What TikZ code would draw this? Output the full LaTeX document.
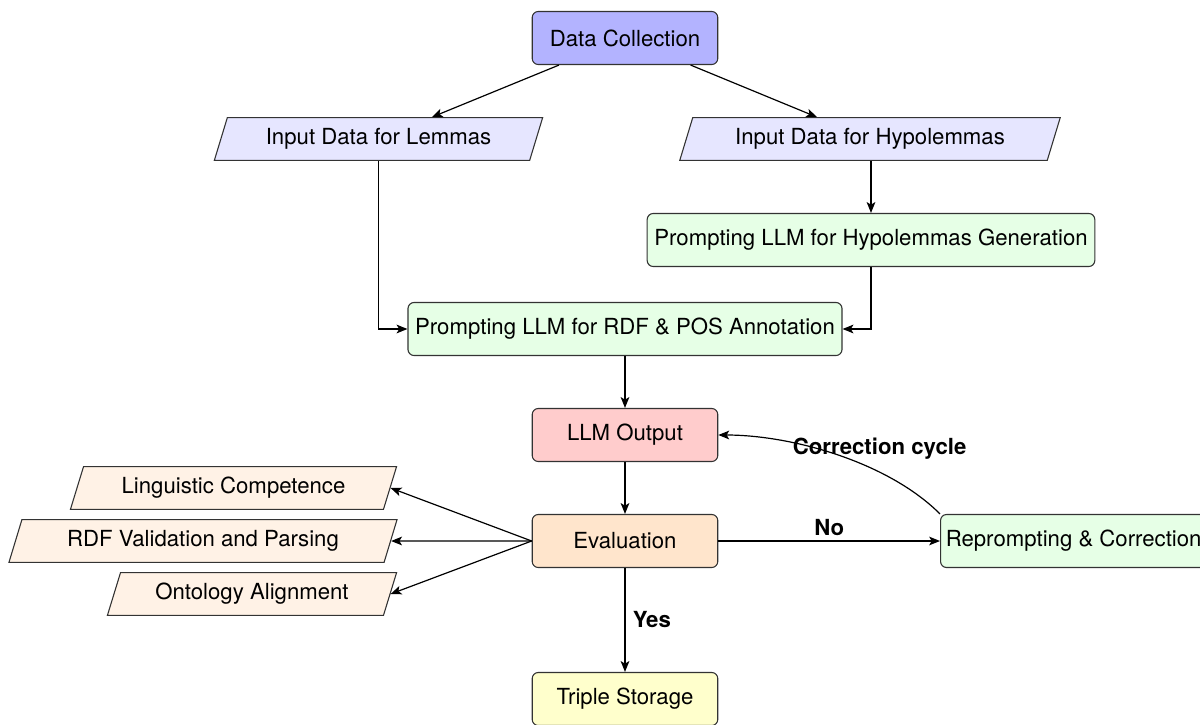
\documentclass[tikz,border=0pt]{standalone}
\usepackage{fontspec}
\setmainfont{TeX Gyre Heros}
\usetikzlibrary{shapes.geometric,arrows.meta}
\tikzset{
  base/.style={draw=black!80, line width=0.5pt, font=\fontsize{10.2}{12}\selectfont, align=center},
  procbox/.style={base, rectangle, rounded corners=2.8pt, minimum height=24.4pt, inner xsep=3.3pt},
  iobox/.style={base, trapezium, trapezium left angle=70, trapezium right angle=110,
    trapezium stretches body=true, minimum height=19.6pt},
  arr/.style={-{Stealth[length=5pt,width=4pt,inset=1.2pt]}, line width=0.55pt, black},
  lbl/.style={font=\bfseries\fontsize{10.2}{12}\selectfont}
}
\definecolor{dcfill}{RGB}{179,179,255}
\definecolor{infill}{RGB}{230,230,255}
\definecolor{grfill}{RGB}{230,255,230}
\definecolor{llmfill}{RGB}{255,204,204}
\definecolor{evfill}{RGB}{255,229,204}
\definecolor{evout}{RGB}{255,242,230}
\definecolor{tsfill}{RGB}{255,255,204}
\begin{document}
\begin{tikzpicture}[x=0.46pt, y=-0.46pt]
\useasboundingbox (0,0) rectangle (1200,725);

\node[procbox, fill=dcfill, minimum width=3cm] (dc) at (625,38) {Data Collection};
\node[iobox, fill=infill, minimum width=151pt] (lem) at (378.5,139) {Input Data for Lemmas};
\node[iobox, fill=infill, minimum width=175pt] (hyp) at (870,139) {Input Data for Hypolemmas};
\node[procbox, fill=grfill] (hgen) at (871,240) {Prompting LLM for Hypolemmas Generation};
\node[procbox, fill=grfill] (ann) at (625,329) {Prompting LLM for RDF \& POS Annotation};
\node[procbox, fill=llmfill, minimum width=3cm] (llm) at (625,435) {LLM Output};
\node[procbox, fill=evfill, minimum width=3cm] (ev) at (625,541) {Evaluation};
\node[procbox, fill=grfill, anchor=west, inner xsep=2.4pt] (rep) at (940,541) {Reprompting \& Correction};
\node[procbox, fill=tsfill, minimum width=3cm] (ts) at (625,699) {Triple Storage};
\node[iobox, fill=evout, minimum width=150pt] (ling) at (233.5,488) {Linguistic Competence};
\node[iobox, fill=evout, minimum width=178.5pt] (rdf) at (203,541) {RDF Validation and Parsing};
\node[iobox, fill=evout, minimum width=133pt] (onto) at (252,594) {Ontology Alignment};

\draw[arr] (dc) -- (lem);
\draw[arr] (dc) -- (hyp);
\draw[arr] (hyp.south -| hgen.north) -- (hgen.north);
\draw[arr] (lem.south) |- (ann.west);
\draw[arr] (hgen.south) |- (ann.east);
\draw[arr] (ann) -- (llm);
\draw[arr] (llm) -- (ev);
\draw[arr] (ev.west) -- (ling.east);
\draw[arr] (ev.west) -- (rdf.east);
\draw[arr] (ev.west) -- (onto.east);
\draw[arr] (ev) -- node[lbl, above, yshift=-1pt] {No} (rep);
\draw[arr] (ev) -- node[lbl, right] {Yes} (ts);
\draw[arr] (rep.north west) to[out=135, in=0, looseness=0.8]
  node[lbl, pos=0.5, xshift=19.5pt, yshift=2.8pt] {Correction cycle} (llm.east);
\end{tikzpicture}
\end{document}
